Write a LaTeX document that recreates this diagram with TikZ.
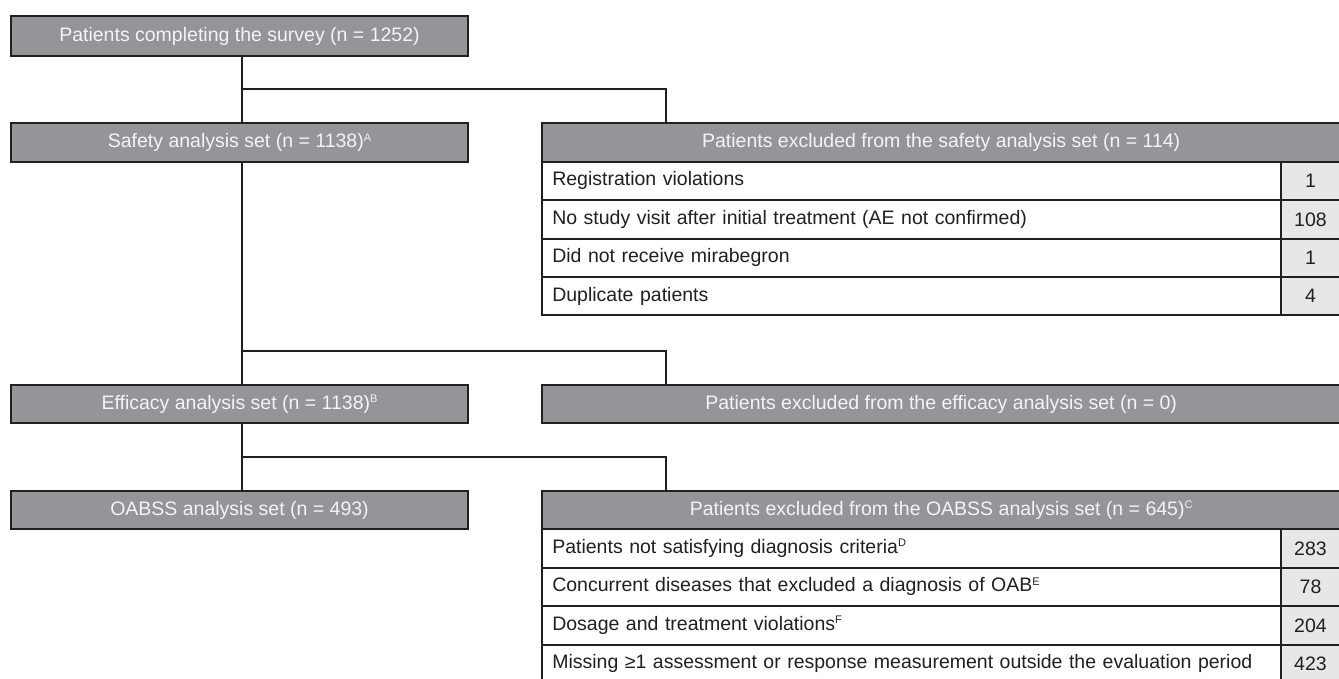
\documentclass[tikz,border=0pt]{standalone}
\usepackage{fontspec}
\setmainfont{Liberation Sans}
\usetikzlibrary{calc}
\definecolor{boxgray}{HTML}{939598}
\definecolor{numgray}{HTML}{E6E7E8}
\definecolor{ink}{HTML}{231F20}
\definecolor{boxtext}{HTML}{F4F4F4}
\newcommand{\supx}[1]{\raisebox{6.5pt}{\fontsize{11}{11}\selectfont #1}}
\begin{document}
\begin{tikzpicture}[x=1pt,y=-1pt,
  base/.style={rectangle, draw=ink, line width=2pt, inner sep=0pt, font=\fontsize{19.5}{22}\selectfont},
  graybox/.style={base, fill=boxgray, text=boxtext, minimum width=457pt, minimum height=38.4pt},
  headbox/.style={base, fill=boxgray, text=boxtext, minimum width=797.7pt, minimum height=38.4pt},
  rowbox/.style={base, fill=white, text=ink, text width=718.7pt, align=left, inner xsep=10pt, minimum height=38.45pt},
  numbox/.style={base, fill=numgray, text=ink, minimum width=59pt, minimum height=38.45pt},
  link/.style={draw=ink, line width=1.8pt}]
\useasboundingbox (0,0) rectangle (1339,678);
\fill[white] (0,0) rectangle (1339,678);

% left column
\node[graybox, minimum height=39.4pt] (top) at (239.5,36) {Patients completing the survey (n = 1252)};
\node[graybox] (safety) at (239.5,142.5) {Safety analysis set (n = 1138)\supx{A}};
\node[graybox] (eff) at (239.5,404.2) {Efficacy analysis set (n = 1138)\supx{B}};
\node[graybox] (oab) at (239.5,510) {OABSS analysis set (n = 493)};

% safety exclusion table
\node[headbox] (sh) at (941.15,142.5) {Patients excluded from the safety analysis set (n = 114)};
\node[rowbox] (s1) at (911.65,180.9) {Registration violations};
\node[numbox] (s1n) at (1310.5,180.9) {1};
\node[rowbox] (s2) at (911.65,219.35) {No study visit after initial treatment (AE not confirmed)};
\node[numbox] (s2n) at (1310.5,219.35) {108};
\node[rowbox] (s3) at (911.65,257.8) {Did not receive mirabegron};
\node[numbox] (s3n) at (1310.5,257.8) {1};
\node[rowbox] (s4) at (911.65,296.25) {Duplicate patients};
\node[numbox] (s4n) at (1310.5,296.25) {4};

% efficacy exclusion
\node[headbox] (eh) at (941.15,404.2) {Patients excluded from the efficacy analysis set (n = 0)};

% OABSS exclusion table
\node[headbox] (oh) at (941.15,510) {Patients excluded from the OABSS analysis set (n = 645)\supx{C}};
\node[rowbox] (o1) at (911.65,548.4) {Patients not satisfying diagnosis criteria\supx{D}};
\node[numbox] (o1n) at (1310.5,548.4) {283};
\node[rowbox] (o2) at (911.65,586.85) {Concurrent diseases that excluded a diagnosis of OAB\supx{E}};
\node[numbox] (o2n) at (1310.5,586.85) {78};
\node[rowbox] (o3) at (911.65,625.3) {Dosage and treatment violations\supx{F}};
\node[numbox] (o3n) at (1310.5,625.3) {204};
\node[rowbox] (o4) at (911.65,663.75) {Missing ≥1 assessment or response measurement outside the evaluation period};
\node[numbox] (o4n) at (1310.5,663.75) {423};

% connectors
\coordinate (j1) at (241.7,89.3);
\coordinate (k1) at (665.7,89.3);
\coordinate (j2) at (241.7,350.7);
\coordinate (k2) at (665.7,350.7);
\coordinate (j3) at (241.7,456.7);
\coordinate (k3) at (665.7,456.7);

\draw[link] (top.south -| j1) -- (safety.north -| j1);
\draw[link] (safety.south -| j1) -- (eff.north -| j1);
\draw[link] (eff.south -| j1) -- (oab.north -| j1);
\draw[link] (j1) -- (k1) -- (k1 |- sh.north);
\draw[link] (j2) -- (k2) -- (k2 |- eh.north);
\draw[link] (j3) -- (k3) -- (k3 |- oh.north);
\end{tikzpicture}
\end{document}
